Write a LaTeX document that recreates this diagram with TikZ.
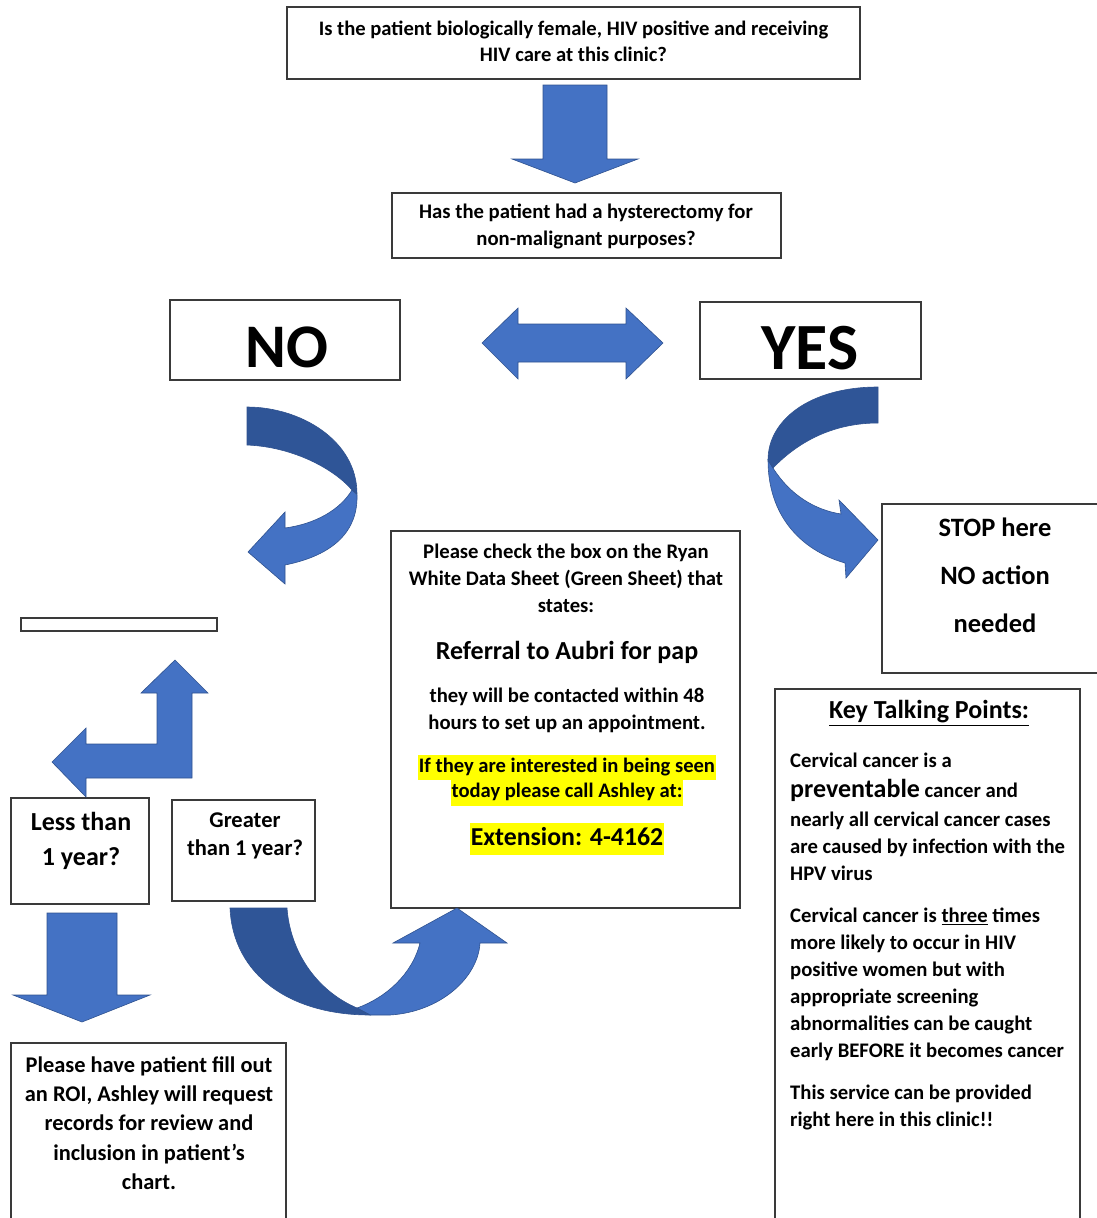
\documentclass[tikz,border=0pt]{standalone}
\usepackage{fontspec}
\setmainfont{Carlito}
\usetikzlibrary{positioning}

\definecolor{arrowblue}{HTML}{4472C4}
\definecolor{arrowdark}{HTML}{2F5597}
\definecolor{arrowedge}{HTML}{2F528F}
\definecolor{boxline}{HTML}{3A3A3A}
\definecolor{marker}{HTML}{FFFF00}

\newcommand{\hilite}[1]{{\setlength{\fboxsep}{0pt}\colorbox{marker}{\strut\kern1pt#1\kern1pt}}}

\begin{document}
\begin{tikzpicture}[
x=1pt, y=-1pt,
flowbox/.style={draw=boxline, line width=1.3pt, inner sep=0pt},
boxtext/.style={align=center, inner sep=0pt, font=\bfseries\fontsize{20.7}{27}\selectfont},
bigword/.style={inner sep=0pt, font=\bfseries\fontsize{62}{62}\selectfont},
lightarrow/.style={fill=arrowblue, draw=arrowedge, line width=0.6pt},
darkarrow/.style={fill=arrowdark, draw=arrowedge, line width=0.6pt}
]
\useasboundingbox (0,0) rectangle (1096,1218);

% boxes
\node[flowbox, minimum width=573pt, minimum height=72pt] (female) at (573.5,43) {};
\node[flowbox, minimum width=389pt, minimum height=65pt] (hyster) at (586.5,225.5) {};
\node[flowbox, minimum width=230pt, minimum height=80pt] (no) at (285,340) {};
\node[flowbox, minimum width=221pt, minimum height=77pt] (yes) at (810.5,340.5) {};
\node[flowbox, minimum width=218pt, minimum height=169pt] (stop) at (991,588.5) {};
\node[flowbox, minimum width=196pt, minimum height=13pt] (blank) at (119,624.5) {};
\node[flowbox, minimum width=138pt, minimum height=106pt] (less) at (80,851) {};
\node[flowbox, minimum width=143pt, minimum height=101pt] (greater) at (243.5,850.5) {};
\node[flowbox, minimum width=349pt, minimum height=377pt] (referral) at (565.5,719.5) {};
\node[flowbox, minimum width=275pt, minimum height=185pt] (roi) at (148.5,1135.5) {};
\node[flowbox, minimum width=305pt, minimum height=539pt] (talking) at (927.5,958.5) {};

% texts
\node[boxtext, font=\bfseries\fontsize{20.6}{26}\selectfont] (femaletext) at (573.5,41)
    {Is the patient biologically female, HIV positive and receiving\\HIV care at this clinic?};
\node[boxtext] (hystertext) at (586,226.5)
    {Has the patient had a hysterectomy for\\non-malignant purposes?};
\node[bigword] (notext) at (287,347) {NO};
\node[bigword, font=\bfseries\fontsize{66}{66}\selectfont] (yestext) at (810,348) {YES};
\node[boxtext, font=\bfseries\fontsize{26.5}{48}\selectfont] (stoptext) at (995,575)
    {STOP here\\NO action\\needed};
\node[boxtext, font=\bfseries\fontsize{26}{35}\selectfont] (lesstext) at (81,840.5)
    {Less than\\1 year?};
\node[boxtext, font=\bfseries\fontsize{22.5}{28}\selectfont] (greatertext) at (245,836)
    {Greater\\than 1 year?};
\node[boxtext] (checktext) at (566,578)
    {Please check the box on the Ryan\\White Data Sheet (Green Sheet) that\\states:};
\node[boxtext, font=\bfseries\fontsize{26}{27}\selectfont] (aubritext) at (567,652)
    {Referral to Aubri for pap};
\node[boxtext] (contacttext) at (567,710)
    {they will be contacted within 48\\hours to set up an appointment.};
\node[boxtext, font=\bfseries\fontsize{20.6}{25.5}\selectfont] (ashleytext) at (567,780)
    {\hilite{If they are interested in being seen}\\\hilite{today please call Ashley at:}};
\node[boxtext, font=\bfseries\fontsize{25.8}{32}\selectfont] (extensiontext) at (567,839)
    {\hilite{Extension: 4-4162}};
\node[boxtext, font=\bfseries\fontsize{22.4}{29.3}\selectfont] (roitext) at (149,1123)
    {Please have patient fill out\\an ROI, Ashley will request\\records for review and\\inclusion in patient’s\\chart.};
\node[boxtext, font=\bfseries\fontsize{26}{27}\selectfont] (keytitle) at (929,713)
    {\underline{Key Talking Points:}};
\node[boxtext, align=left, anchor=west] (keyone) at (790,817)
    {Cervical cancer is a\\[3pt]
     {\fontsize{26}{27}\selectfont preventable} cancer and\\[2pt]
     nearly all cervical cancer cases\\
     are caused by infection with the\\
     HPV virus};
\node[boxtext, align=left, anchor=west] (keytwo) at (790,984.5)
    {Cervical cancer is \underline{three} times\\
     more likely to occur in HIV\\
     positive women but with\\
     appropriate screening\\
     abnormalities can be caught\\
     early BEFORE it becomes cancer};
\node[boxtext, align=left, anchor=west] (keythree) at (790,1107.5)
    {This service can be provided\\right here in this clinic!!};

% straight block arrows
\draw[lightarrow] (543,85) -- (607,85) -- (607,159) -- (638,159) -- (575,183)
    -- (512,159) -- (543,159) -- cycle;
\draw[lightarrow] (482,343) -- (518,308) -- (518,324) -- (626,324) -- (626,308)
    -- (663,343) -- (626,379) -- (626,362) -- (518,362) -- (518,379) -- cycle;
\draw[lightarrow] (47,913) -- (117,913) -- (117,995) -- (150,995) -- (82,1022)
    -- (13,995) -- (47,995) -- cycle;
\draw[lightarrow] (175,660) -- (208,693) -- (192,693) -- (192,778) -- (86,778)
    -- (86,797) -- (52,762) -- (86,728) -- (86,744) -- (157,744) -- (157,693)
    -- (141,693) -- cycle;

% curved arrow under NO
\draw[lightarrow] (352,490) .. controls (340,510) and (315,524) .. (285,528)
    -- (285,512) -- (248,552) -- (285,584) -- (285,565)
    .. controls (335,555) and (358,530) .. (357,495) -- cycle;
\draw[darkarrow] (247,407) .. controls (300,407) and (357,440) .. (357,494)
    -- (352,490) .. controls (335,470) and (295,447) .. (247,445) -- cycle;

% curved arrow under YES
\draw[lightarrow] (773,468) .. controls (790,495) and (815,510) .. (841,514)
    -- (839,500) -- (878,540) -- (846,578) -- (845,563)
    .. controls (800,550) and (768,515) .. (768,460) -- cycle;
\draw[darkarrow] (878,387) .. controls (810,387) and (768,420) .. (768,460)
    -- (773,468) .. controls (800,440) and (835,423) .. (878,423) -- cycle;

% u-turn arrow to referral box
\draw[lightarrow] (357,1008) -- (370,1015) -- (390,1015)
    .. controls (440,1012) and (478,978) .. (480,943) -- (507,943) -- (457,908)
    -- (393,943) -- (420,943) .. controls (412,975) and (385,998) .. (357,1008) -- cycle;
\draw[darkarrow] (230,908) .. controls (233,975) and (290,1015) .. (370,1015)
    -- (357,1008) .. controls (315,990) and (290,950) .. (287,908) -- cycle;
\end{tikzpicture}
\end{document}
